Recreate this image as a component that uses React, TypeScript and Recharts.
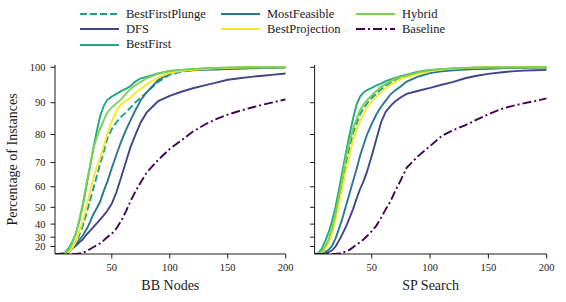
import { Line, LineChart, XAxis, YAxis } from 'recharts';

const xGrid = [1, 4, 7, 10, 13, 16, 19, 22, 25, 28, 31, 34, 37, 40, 43, 46, 50, 54, 58, 62, 66, 70, 75, 80, 90, 100, 110, 120, 130, 140, 150, 160, 170, 180, 190, 200];

// BB Nodes panel
const bbBestFirstPlunge = [0, 1, 3, 6, 11, 17, 24, 32, 39, 46, 53, 59, 64.5, 69.5, 74, 78.5, 81.8, 84, 85.7, 87, 88.5, 90, 91.5, 93, 96, 98, 98.8, 99.2, 99.5, 99.6, 99.7, 99.8, 99.9, 100, 100, 100];
const bbDFS = [0, 2, 5, 8, 13, 17, 21, 25, 28, 32, 35, 38, 40.5, 43, 45.5, 48, 52, 57.5, 64, 70, 75.5, 79.5, 84, 87, 90.5, 92, 93.2, 94.2, 95, 95.8, 96.6, 97, 97.4, 97.7, 98, 98.3];
const bbBestFirst = [0, 2, 5, 10, 18, 26, 33, 42, 51, 60, 68, 75, 81, 86, 89, 90.8, 91.8, 92.6, 93.4, 94, 94.8, 96, 97, 97.4, 98.3, 99, 99.3, 99.5, 99.7, 99.8, 99.9, 99.9, 100, 100, 100, 100];
const bbMostFeasible = [0, 1, 3, 6, 11, 18, 23, 27.5, 31.5, 36, 41, 46, 49.5, 53, 58, 62, 67.8, 73, 77.5, 81.3, 84.5, 87.5, 90.8, 93, 96.5, 98.4, 99, 99.2, 99.3, 99.4, 99.5, 99.6, 99.7, 99.8, 99.8, 99.9];
const bbBestProjection = [0, 1, 3, 6, 11, 18, 26, 35, 42, 50, 57, 63.7, 68, 71.6, 76, 80, 84.2, 87.5, 89.5, 90.5, 91.5, 92.8, 94, 95.3, 97.2, 98.5, 99, 99.3, 99.5, 99.7, 99.8, 99.9, 100, 100, 100, 100];
const bbHybrid = [0, 1.5, 4, 8, 15, 24, 33, 43, 52, 61, 68, 75, 79, 82, 84.5, 87, 88.6, 89.8, 91, 92.5, 94, 95, 96, 97, 98.3, 99, 99.3, 99.5, 99.7, 99.8, 99.9, 100, 100, 100, 100, 100];
const bbBaseline = [0, 0, 0, 1, 1.5, 2, 3, 5, 8, 12, 16, 19, 21.5, 24, 27, 30, 33, 37, 42, 47.5, 53, 57.5, 62, 66, 71, 75, 78, 81, 83.2, 85, 86.4, 87.5, 88.5, 89.4, 90.2, 91];

// SP Search panel
const spBestFirstPlunge = [0, 3.5, 10, 18, 26, 35, 45, 54, 62, 70, 75.5, 80.5, 83.5, 86.5, 88.3, 89.8, 91.4, 92.7, 93.9, 94.9, 95.7, 96.4, 97.1, 97.6, 98.5, 99.1, 99.4, 99.6, 99.8, 99.9, 100, 100, 100, 100, 100, 100];
const spDFS = [0, 1, 3, 6, 10, 14, 20, 27, 33, 38.5, 44, 49, 54.5, 59, 62.5, 66.5, 72.5, 78.5, 84, 87.3, 89, 90.4, 91.6, 92.6, 93.5, 94.3, 95.2, 96, 97, 97.7, 98.2, 98.6, 98.9, 99.1, 99.2, 99.3];
const spBestFirst = [0, 6, 16, 26, 34, 42, 50.5, 59, 67, 74, 80, 85.2, 89.5, 91.8, 93, 93.7, 94.3, 95, 95.5, 96.2, 96.7, 97.1, 97.6, 98, 98.8, 99.3, 99.5, 99.7, 99.8, 99.9, 100, 100, 100, 100, 100, 100];
const spMostFeasible = [0, 2, 5, 10, 15, 21, 29, 37, 44, 51, 57, 62.5, 67.5, 72.5, 76.5, 80, 83.5, 86.5, 88.8, 90.6, 92.4, 93.6, 94.8, 96.1, 97.5, 98.4, 98.9, 99.2, 99.4, 99.5, 99.6, 99.7, 99.8, 99.8, 99.9, 99.9];
const spBestProjection = [0, 3, 9, 16, 24, 33, 43, 52, 60, 67, 73, 78, 81.5, 84.5, 86.6, 88.5, 90.4, 91.8, 93.1, 94.2, 95.2, 96, 96.8, 97.3, 98.3, 99, 99.4, 99.6, 99.8, 99.9, 100, 100, 100, 100, 100, 100];
const spHybrid = [0, 4, 11, 20, 28, 37, 47, 56, 64.5, 72.5, 77.5, 82, 85, 87.8, 89.5, 90.8, 92.2, 93.4, 94.6, 95.4, 96.2, 96.9, 97.4, 97.8, 98.6, 99.2, 99.5, 99.7, 99.8, 99.9, 100, 100, 100, 100, 100, 100];
const spBaseline = [0, 0, 0, 1, 1.5, 2, 3, 5, 8, 12, 15, 19, 22.5, 25, 28, 31, 35, 39, 44, 49, 53, 58, 63, 68, 72.5, 76, 79.5, 81.5, 83, 84.8, 86.5, 88, 89, 89.8, 90.5, 91.3];

const yTicks = [20, 30, 40, 50, 60, 70, 80, 90, 100];
const xTicks = [50, 100, 150, 200];

const series = [
  { key: 'BestFirstPlunge', color: '#1f9e89', dash: '7 3' },
  { key: 'DFS', color: '#414487' },
  { key: 'BestFirst', color: '#22a884' },
  { key: 'MostFeasible', color: '#2a788e' },
  { key: 'BestProjection', color: '#fde725' },
  { key: 'Hybrid', color: '#7ad151' },
  { key: 'Baseline', color: '#440154', dash: '9 3 2 3' },
];

const FONT = '"Liberation Serif", "Times New Roman", serif';
const INK = '#1a1a1a';

// y axis is quadratic in the original plot
const sq = (v: number) => v * v;

function buildRows(cols: Record<string, number[]>) {
  return xGrid.map((x, i) => {
    const row: Record<string, number> = { x };
    Object.keys(cols).forEach((k) => (row[k] = cols[k][i]));
    return row;
  });
}

const bbRows = buildRows({
  BestFirstPlunge: bbBestFirstPlunge, DFS: bbDFS, BestFirst: bbBestFirst, MostFeasible: bbMostFeasible,
  BestProjection: bbBestProjection, Hybrid: bbHybrid, Baseline: bbBaseline,
});
const spRows = buildRows({
  BestFirstPlunge: spBestFirstPlunge, DFS: spDFS, BestFirst: spBestFirst, MostFeasible: spMostFeasible,
  BestProjection: spBestProjection, Hybrid: spHybrid, Baseline: spBaseline,
});

const tickStyle = { fontSize: 10.5, fill: INK, fontFamily: FONT };

function Panel({ rows, xLabel, showY, left, width, yWidth, marginRight }: {
  rows: Record<string, number>[]; xLabel: string; showY: boolean; left: number; width: number; yWidth: number; marginRight: number;
}) {
  return (
    <div style={{ position: 'absolute', left, top: 0 }}>
      <LineChart width={width} height={302} data={rows} margin={{ top: 65, right: marginRight, bottom: 0, left: 0 }}>
        <XAxis
          dataKey="x"
          type="number"
          domain={[1, 200]}
          ticks={xTicks}
          interval={0}
          allowDataOverflow
          height={48}
          tick={tickStyle}
          tickSize={4.5}
          tickMargin={5}
          axisLine={{ stroke: INK }}
          tickLine={{ stroke: INK }}
          label={{ value: xLabel, position: 'insideBottom', offset: 12, fontSize: 14, fill: INK, fontFamily: FONT }}
        />
        <XAxis xAxisId="top" orientation="top" type="number" domain={[0, 1]} height={0} tick={false} tickLine={false} axisLine={{ stroke: INK }} />
        <YAxis
          type="number"
          domain={[0, 10120]}
          ticks={yTicks.map(sq)}
          interval={0}
          allowDataOverflow
          width={yWidth}
          tick={tickStyle}
          tickFormatter={(v: number) => (showY ? String(Math.round(Math.sqrt(v))) : '')}
          tickSize={4.5}
          tickMargin={5}
          axisLine={{ stroke: INK }}
          tickLine={{ stroke: INK }}
          label={showY ? { value: 'Percentage of Instances', angle: -90, position: 'insideLeft', offset: 12, fontSize: 14, fill: INK, fontFamily: FONT, style: { textAnchor: 'middle' } } : undefined}
        />
        <YAxis yAxisId="right" orientation="right" width={0} domain={[0, 1]} tick={false} tickLine={false} axisLine={{ stroke: INK }} />
        {series.map((s) => (
          <Line
            key={s.key}
            type="linear"
            dataKey={(d: Record<string, number>) => sq(d[s.key])}
            stroke={s.color}
            strokeWidth={1.9}
            strokeDasharray={s.dash}
            dot={false}
            isAnimationActive={false}
          />
        ))}
      </LineChart>
    </div>
  );
}

const legendCols = [
  ['BestFirstPlunge', 'DFS', 'BestFirst'],
  ['MostFeasible', 'BestProjection'],
  ['Hybrid', 'Baseline'],
];
const legendLeft = [80, 221, 356];

function Legend() {
  return (
    <>
      {legendCols.map((col, ci) =>
        col.map((name, ri) => {
          const s = series.find((q) => q.key === name)!;
          return (
            <div
              key={name}
              style={{ position: 'absolute', left: legendLeft[ci], top: 6 + ri * 15.4, height: 16, display: 'flex', alignItems: 'center', fontFamily: FONT, fontSize: 12.5, color: INK, whiteSpace: 'nowrap' }}
            >
              <svg width={39} height={6} style={{ marginRight: 7 }}>
                <line x1={0} y1={3} x2={39} y2={3} stroke={s.color} strokeWidth={2} strokeDasharray={s.dash} />
              </svg>
              {name}
            </div>
          );
        })
      )}
    </>
  );
}

export default function App() {
  return (
    <div style={{ position: 'absolute', left: 0, top: 0, width: 566, height: 302, background: '#fff', overflow: 'hidden' }}>
      <Legend />
      <Panel rows={bbRows} xLabel="BB Nodes" showY left={0} width={295} yWidth={55} marginRight={9.3} />
      <Panel rows={spRows} xLabel="SP Search" showY={false} left={295} width={271} yWidth={19.6} marginRight={19.3} />
    </div>
  );
}
